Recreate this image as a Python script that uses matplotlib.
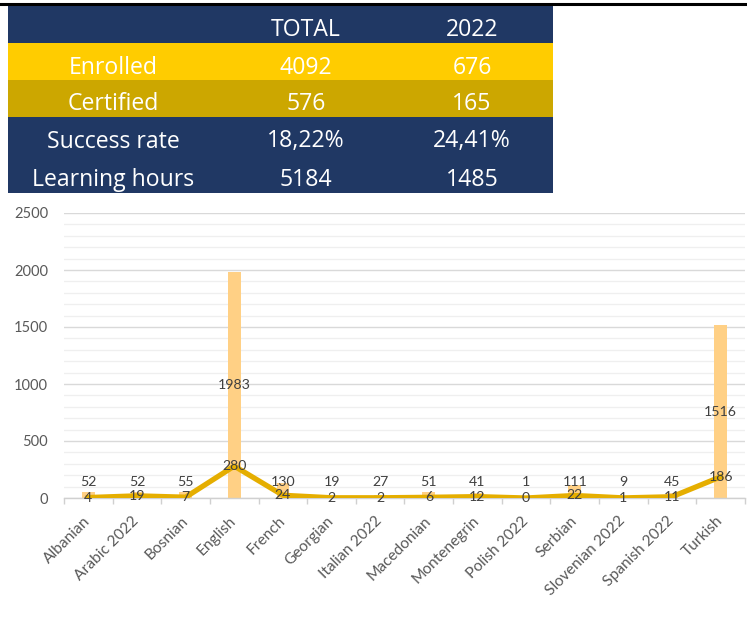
import matplotlib
matplotlib.use("Agg")
import matplotlib.pyplot as plt
from matplotlib.lines import Line2D
from matplotlib.patches import Rectangle
from matplotlib.ticker import MultipleLocator, FixedLocator, NullFormatter

# ---- summary table ----
table_labels = ["", "Enrolled", "Certified", "Success rate", "Learning hours"]
table_total = ["TOTAL", "4092", "576", "18,22%", "5184"]
table_2022 = ["2022", "676", "165", "24,41%", "1485"]
row_colors = ["#203864", "#FFCC00", "#CCA700", "#203864", "#203864"]

# ---- course chart ----
courses = ["Albanian", "Arabic 2022", "Bosnian", "English", "French", "Georgian",
           "Italian 2022", "Macedonian", "Montenegrin", "Polish 2022", "Serbian",
           "Slovenian 2022", "Spanish 2022", "Turkish"]
enrolled = [52, 52, 55, 1983, 130, 19, 27, 51, 41, 1, 111, 9, 45, 1516]
certified = [4, 19, 7, 280, 24, 2, 2, 6, 12, 0, 22, 1, 11, 186]

W, H = 747, 627
fig = plt.figure(figsize=(W / 100, H / 100), dpi=100)
fig.patch.set_facecolor("white")

# thin black rule across the top
fig.add_artist(Line2D([0, 1], [1 - 4 / H, 1 - 4 / H], color="black", lw=2.2,
                      transform=fig.transFigure))

# table drawn in pixel-like coordinates
tx0, tx1, ty0, ty1 = 8, 553, 5, 193
tax = fig.add_axes([tx0 / W, 1 - ty1 / H, (tx1 - tx0) / W, (ty1 - ty0) / H])
tax.set_xlim(tx0, tx1)
tax.set_ylim(ty1, ty0)
tax.axis("off")
row_edges = [5, 43, 80, 117, 155, 193]
col_x = [113, 306, 472]
tfont = dict(family="Open Sans", size=16.6, color="white", ha="center", va="baseline")
for i in range(len(table_labels)):
    top, bot = row_edges[i], row_edges[i + 1]
    tax.add_patch(Rectangle((tx0, top), tx1 - tx0, bot - top, facecolor=row_colors[i],
                            edgecolor="none"))
    base = top + 30.5
    for x, txt in zip(col_x, [table_labels[i], table_total[i], table_2022[i]]):
        tax.text(x, base, txt, **tfont)

# chart
ax = fig.add_axes([64 / W, (H - 498) / H, 681 / W, 285 / H])
ax.set_xlim(-0.5, len(courses) - 0.5)
ax.set_ylim(0, 2500)
x = list(range(len(courses)))

ax.yaxis.set_major_locator(MultipleLocator(500))
ax.yaxis.set_minor_locator(MultipleLocator(100))
ax.grid(which="major", axis="y", color="#D9D9D9", lw=1.0)
ax.grid(which="minor", axis="y", color="#EFEFEF", lw=0.9)
ax.set_axisbelow(True)

ax.bar(x, enrolled, width=0.26, color="#FFD085", zorder=2)
ax.plot(x, certified, color="#E5AE00", lw=3.8, solid_joinstyle="round", zorder=3)

lab = dict(family="Lato", size=10.2, color="#404040", ha="center", va="center", zorder=4)
for xi, v in zip(x, enrolled):
    y = v / 2 if v > 500 else 140
    ax.text(xi, y, str(v), **lab)
for xi, v in zip(x, certified):
    ax.text(xi, v, str(v), **lab)

for s in ["left", "right", "top"]:
    ax.spines[s].set_visible(False)
ax.spines["bottom"].set_color("#D0D0D0")
ax.spines["bottom"].set_linewidth(1.0)

ax.set_xticks(x)
ax.set_xticklabels(courses, rotation=45, ha="right", va="center", rotation_mode="anchor",
                   family="Lato", size=11.2, color="#595959")
ax.tick_params(axis="x", which="major", length=0, pad=15)
ax.xaxis.set_minor_locator(FixedLocator([i - 0.5 for i in range(len(courses) + 1)]))
ax.xaxis.set_minor_formatter(NullFormatter())
ax.tick_params(axis="x", which="minor", length=4, color="#D0D0D0", width=1.0)
ax.tick_params(axis="y", which="both", length=0, pad=11.5)
for t in ax.get_yticklabels():
    t.set_family("Lato")
    t.set_size(10.5)
    t.set_color("#595959")

fig.savefig("out.png", dpi=100, facecolor="white")
